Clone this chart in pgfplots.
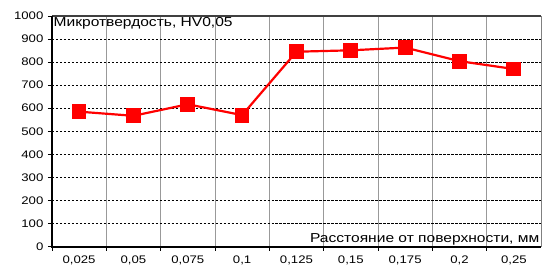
\documentclass[border=0pt]{standalone}
\usepackage{pgfplots}
\pgfplotsset{compat=1.18}
\usepackage{fontspec}
\setmainfont[FakeStretch=1.2]{Liberation Sans}
\begin{document}
\begin{tikzpicture}
\path (-52bp,-26bp) rectangle (490bp,247bp);
\begin{axis}[
  scale only axis, anchor=south west, at={(0,0)},
  width=490bp, height=231bp,
  xmin=-0.5, xmax=8.5, ymin=0, ymax=1000,
  xtick={0,...,8},
  xticklabels={{0,025},{0,05},{0,075},{0,1},{0,125},{0,15},{0,175},{0,2},{0,25}},
  minor xtick={-0.5,0.5,1.5,...,7.5},
  ytick={0,100,...,1000},
  yticklabel style={/pgf/number format/1000 sep={}},
  major x tick style={draw=none},
  minor tick length=4bp, major tick length=4bp,
  tick align=outside, tick pos=left,
  tick style={black, line width=0.8pt},
  minor x grid style={gray!80, line width=0.8pt},
  minor grid style={gray!80, line width=0.8pt},
  xminorgrids=true,
  ymajorgrids=true,
  major grid style={black, line width=0.8pt, dash pattern=on 2.5bp off 1.5bp},
  axis line style={draw=none},
  ticklabel style={font=\fontsize{11bp}{13bp}\selectfont},
  xticklabel style={yshift=-2bp},
  yticklabel style={xshift=-1bp},
  /pgf/number format/assume math mode=true,
  clip=false,
]
\addplot[red, line width=2.2bp, mark=square*, mark size=6.3bp, mark options={solid}] coordinates {
(0,585) (1,567) (2,617) (3,570) (4,845) (5,851) (6,863) (7,804) (8,770)};
\draw[black!75, line width=1.5bp] (rel axis cs:0,1) -- (rel axis cs:1,1);
\draw[gray, line width=1bp] (rel axis cs:1,0) -- (rel axis cs:1,1);
\draw[black, line width=2bp] (rel axis cs:0,1) -- (rel axis cs:0,0) -- (rel axis cs:1,0);
\node[anchor=north west, inner sep=1.5bp, font=\fontsize{13bp}{15bp}\selectfont] at (rel axis cs:0,1) {Микротвердость, HV0,05};
\node[anchor=south east, inner sep=1.5bp, font=\fontsize{13bp}{15bp}\selectfont] at (rel axis cs:1,0) {Расстояние от поверхности, мм};
\end{axis}
\end{tikzpicture}
\end{document}
